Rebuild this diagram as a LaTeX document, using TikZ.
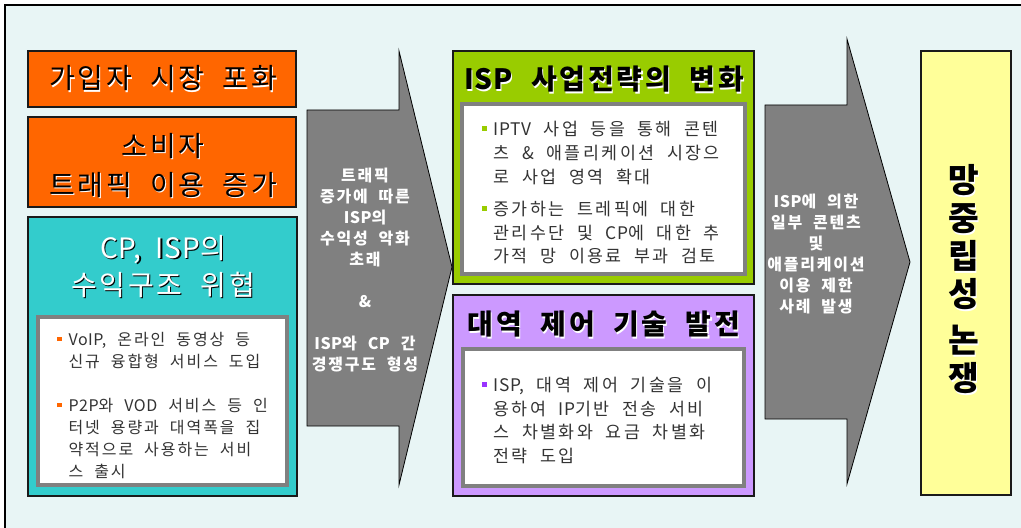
\documentclass[tikz,border=0pt]{standalone}
\usepackage{fontspec}
\setmainfont{Noto Sans CJK KR}[WordSpace=2]
\definecolor{bgc}{HTML}{E8F5F5}
\definecolor{orng}{HTML}{FF6600}
\definecolor{tealc}{HTML}{33CCCC}
\definecolor{grn}{HTML}{99CC00}
\definecolor{prp}{HTML}{CC99FF}
\definecolor{ylw}{HTML}{FFFF99}
\definecolor{gry}{HTML}{808080}
\definecolor{txt}{HTML}{333333}
\definecolor{bprp}{HTML}{9933FF}
\definecolor{edge}{HTML}{1A1A1A}
\newcommand\shw[2]{\rlap{\kern0.9pt\raisebox{-0.9pt}{\textcolor{#1}{#2}}}#2}
\newcommand\bul[1]{\makebox[8.5pt][l]{\textcolor{#1}{\rule[0.28em]{3.2pt}{3.2pt}}}}
\newcommand\ind{\hspace*{8.5pt}}
\newcommand\lat[1]{{\addfontfeature{LetterSpace=3}#1}}
\tikzset{
  box/.style={draw=edge, line width=0.9pt},
  inbox/.style={draw=gry, fill=white, line width=2.4pt},
  arr/.style={draw=black, fill=gry, line width=0.6pt, line join=miter},
  ttl/.style={inner sep=0pt, align=center, font=\fontsize{21}{29}\selectfont\addfontfeature{LetterSpace=10}},
  ttlb/.style={inner sep=0pt, align=center, font=\fontsize{21}{29}\selectfont\bfseries\addfontfeature{LetterSpace=10}},
  bltxt/.style={inner sep=0pt, align=left, text=txt, anchor=north west},
  arrtxt/.style={inner sep=0pt, align=center, text=white, font=\fontsize{12}{15.8}\selectfont\bfseries\addfontfeature{LetterSpace=11}},
}
\begin{document}
\begin{tikzpicture}[x=0.75pt,y=-0.75pt]
\useasboundingbox (0,0) rectangle (1021,528);
\fill[white] (0,0) rectangle (1021,528);
\fill[bgc] (5,5) rectangle (1021,528);
\draw[line width=1.5pt] (5,528) -- (5,5) -- (1021,5);

% left column
\draw[box, fill=orng] (28,51) rectangle (296,107);
\node[ttl] (t1) at (163,79) {\shw{white}{가입자 시장 포화}};
\draw[box, fill=orng] (28,117) rectangle (296,207);
\node[ttl] (t2) at (163,166) {\shw{white}{소비자}\\\shw{white}{트래픽 이용 증가}};
\draw[box, fill=tealc] (28,217) rectangle (297,496);
\node[ttl, text=white, font=\fontsize{21}{28}\selectfont\addfontfeature{LetterSpace=10}] (t3) at (163,267) {\shw{black}{\lat{CP, ISP}의}\\\shw{black}{수익구조 위협}};
\draw[inbox] (38,317) rectangle (287,485);
\node[bltxt, font=\fontsize{12}{16.5}\selectfont\addfontfeature{LetterSpace=12}] (b3) at (57,332) {\bul{orng}\lat{VoIP,} 온라인 동영상 등\\\ind 신규 융합형 서비스 도입\\[16.5pt]\bul{orng}\lat{P2P}와 \lat{VOD} 서비스 등 인\\\ind 터넷 용량과 대역폭을 집\\\ind 약적으로 사용하는 서비\\\ind 스 출시};

% first arrow
\draw[arr] (307,110) -- (399,110) -- (399,51) -- (452,267) -- (399,485) -- (399,426) -- (307,426) -- cycle;
\node[arrtxt] (a1) at (365,270) {트래픽\\증가에 따른\\\lat{ISP}의\\수익성 악화\\초래\\[15.8pt]\&\\[15.8pt]\lat{ISP}와 \lat{CP} 간\\경쟁구도 형성};

% middle column
\draw[box, fill=grn] (453,51) rectangle (754,284);
\node[ttlb] (g) at (604,80) {\shw{white}{\lat{ISP} 사업전략의 변화}};
\draw[inbox] (462,104) rectangle (745,274);
\node[bltxt, font=\fontsize{13}{17.8}\selectfont\addfontfeature{LetterSpace=14}] (gb) at (482,121) {\bul{grn}\lat{IPTV} 사업 등을 통해 콘텐\\\ind 츠 \& 애플리케이션 시장으\\\ind 로 사업 영역 확대\\[6.5pt]\bul{grn}증가하는 트레픽에 대한\\\ind 관리수단 및 \lat{CP}에 대한 추\\\ind 가적 망 이용료 부과 검토};
\draw[box, fill=prp] (453,295) rectangle (754,496);
\node[ttlb] (p) at (604,325) {\shw{white}{대역 제어 기술 발전}};
\draw[inbox] (463,349) rectangle (744,486);
\node[bltxt, font=\fontsize{13}{17.6}\selectfont\addfontfeature{LetterSpace=14}] (pb) at (482,377) {\bul{bprp}\lat{ISP,} 대역 제어 기술을 이\\\ind 용하여 \lat{IP}기반 전송 서비\\\ind 스 차별화와 요금 차별화\\\ind 전략 도입};

% second arrow
\draw[arr] (765,105) -- (847,105) -- (847,39) -- (910,262) -- (847,484) -- (847,419) -- (765,419) -- cycle;
\node[arrtxt] (a2) at (816,254) {\lat{ISP}에 의한\\일부 콘텐츠\\및\\애플리케이션\\이용 제한\\사례 발생};

% right box
\draw[box, fill=ylw] (921,51) rectangle (1011,495);
\node[ttlb, font=\fontsize{25}{28.5}\selectfont\bfseries] (y) at (964,280) {\shw{white}{망}\\\shw{white}{중}\\\shw{white}{립}\\\shw{white}{성}\\[6pt]\shw{white}{논}\\\shw{white}{쟁}};
\end{tikzpicture}
\end{document}
